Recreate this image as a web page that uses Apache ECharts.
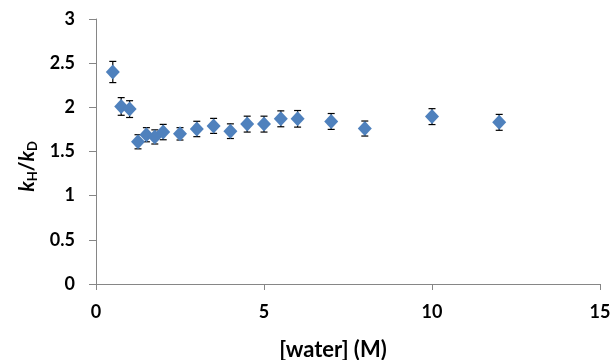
<!DOCTYPE html>
<html>
<head>
<meta charset="utf-8">
<script src="https://cdn.jsdelivr.net/npm/echarts@6/dist/echarts.min.js"></script>
<style>
  html, body { margin: 0; padding: 0; background: #fff; }
  #chart { width: 611px; height: 360px; }
</style>
</head>
<body>
<div id="chart"></div>
<script>
// water concentration (M)
const water = [0.5, 0.75, 1.0, 1.25, 1.5, 1.75, 2.0, 2.5, 3, 3.5, 4, 4.5, 5, 5.5, 6, 7, 8, 10, 12]
// kH/kD ratio
const ratio = [2.40, 2.01, 1.98, 1.61, 1.69, 1.665, 1.72, 1.70, 1.755, 1.79, 1.73, 1.81, 1.81, 1.87, 1.87, 1.84, 1.76, 1.895, 1.83]
// error bar half-widths
const err = [0.12, 0.10, 0.095, 0.08, 0.08, 0.08, 0.087, 0.07, 0.087, 0.085, 0.083, 0.09, 0.09, 0.09, 0.094, 0.09, 0.085, 0.09, 0.09]

const xTicks = [0, 5, 10, 15]
const yTicks = [0, 0.5, 1, 1.5, 2, 2.5, 3]

const font = 'Lato, "Open Sans", sans-serif'
const axisGray = '#868686'

const chart = echarts.init(document.getElementById('chart'))

const points = water.map((x, i) => [x, ratio[i]])
const bars = water.map((x, i) => [x, ratio[i] - err[i], ratio[i] + err[i]])

chart.setOption({
  animation: false,
  backgroundColor: '#fff',
  grid: { left: 96, right: 11, top: 19, bottom: 76, outerBoundsMode: 'none', containLabel: false },
  xAxis: {
    type: 'value',
    min: xTicks[0],
    max: xTicks[xTicks.length - 1],
    interval: 5,
    name: '[water] (M)',
    nameLocation: 'middle',
    nameGap: 55,
    nameTextStyle: { fontFamily: font, fontWeight: 'bold', fontSize: 22, color: '#000', padding: [0, 30, 0, 0] },
    axisLine: { lineStyle: { color: axisGray } },
    axisTick: { inside: false, length: 6, lineStyle: { color: axisGray } },
    axisLabel: { margin: 19, fontFamily: font, fontWeight: 'bold', fontSize: 18, color: '#000', formatter: v => String(v) },
    splitLine: { show: false }
  },
  yAxis: {
    type: 'value',
    min: yTicks[0],
    max: yTicks[yTicks.length - 1],
    interval: 0.5,
    name: '{k|k}{s|H}{n|/}{k|k}{s|D}',
    nameLocation: 'middle',
    nameGap: 52,
    nameRotate: 90,
    nameTextStyle: {
      color: '#000',
      padding: [0, 30, 0, 0],
      rich: {
        k: { fontFamily: font, fontWeight: 'bold', fontStyle: 'italic', fontSize: 21, color: '#000' },
        n: { fontFamily: font, fontWeight: 'bold', fontSize: 21, color: '#000' },
        s: { fontFamily: font, fontWeight: 'bold', fontSize: 13, color: '#000', verticalAlign: 'bottom', padding: [11, 0, 0, 0] }
      }
    },
    axisLine: { show: true, lineStyle: { color: axisGray } },
    axisTick: { show: true, inside: false, length: 7, lineStyle: { color: axisGray } },
    axisLabel: {
      margin: 21, fontFamily: font, fontWeight: 'bold', fontSize: 18, color: '#000',
      formatter: v => String(yTicks.find(t => Math.abs(t - v) < 1e-6) ?? v)
    },
    splitLine: { show: false }
  },
  series: [
    {
      type: 'custom',
      data: bars,
      z: 1,
      renderItem: (params, api) => {
        const x = api.value(0)
        const lo = api.coord([x, api.value(1)])
        const hi = api.coord([x, api.value(2)])
        const w = 3.5
        const style = { stroke: '#000', lineWidth: 1.2 }
        return {
          type: 'group',
          children: [
            { type: 'line', shape: { x1: lo[0], y1: lo[1], x2: hi[0], y2: hi[1] }, style },
            { type: 'line', shape: { x1: lo[0] - w, y1: lo[1], x2: lo[0] + w, y2: lo[1] }, style },
            { type: 'line', shape: { x1: hi[0] - w, y1: hi[1], x2: hi[0] + w, y2: hi[1] }, style }
          ]
        }
      }
    },
    {
      type: 'scatter',
      data: points,
      z: 2,
      symbol: 'diamond',
      symbolSize: [14, 15],
      itemStyle: { color: '#4F81BD', opacity: 1 }
    }
  ]
})
</script>
</body>
</html>
